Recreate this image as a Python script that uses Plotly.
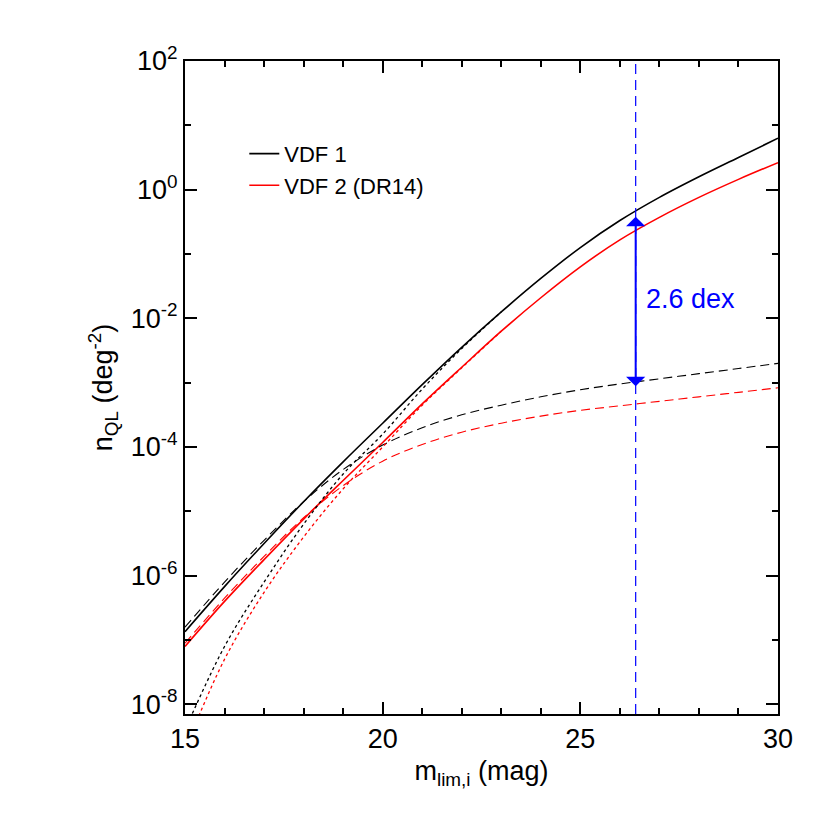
import plotly.graph_objects as go

x_m = [15, 16, 17, 18, 19, 20, 21, 22, 23, 24, 25, 26, 27, 28, 29, 30]
b_sol = [-6.87, -6.17, -5.5, -4.85, -4.23, -3.63, -3.03, -2.45, -1.9, -1.38, -0.9, -0.48, -0.12, 0.2, 0.5, 0.8]
r_sol = [-7.1, -6.4, -5.75, -5.12, -4.52, -3.93, -3.33, -2.76, -2.2, -1.68, -1.2, -0.78, -0.43, -0.12, 0.16, 0.42]
b_dash = [-6.8, -6.1, -5.45, -4.85, -4.35, -3.97, -3.7, -3.5, -3.35, -3.22, -3.11, -3.02, -2.94, -2.86, -2.78, -2.7]
r_dash = [-7.05, -6.35, -5.7, -5.1, -4.6, -4.22, -3.96, -3.77, -3.63, -3.52, -3.43, -3.36, -3.29, -3.22, -3.15, -3.08]
x_dot = [15, 16, 17, 18, 19, 20, 21, 22, 23]
b_dot = [-8.4, -7.1, -6.1, -5.2, -4.42, -3.8, -3.1, -2.47, -1.9]
r_dot = [-8.7, -7.3, -6.26, -5.4, -4.65, -4.0, -3.35, -2.77, -2.2]
m_lim = 26.4
arrow_top, arrow_bot = -0.42, -3.08

def p(v):
    return [10**a for a in v]

F = 'Liberation Sans'
fig = go.Figure()
def add(x, y, c, dash, name=None, w=1.6):
    fig.add_trace(go.Scatter(x=x, y=p(y), mode='lines', line=dict(color=c, width=w, dash=dash, shape='spline'),
                             name=name, showlegend=name is not None))
add(x_m, b_sol, 'black', 'solid', 'VDF 1')
add(x_m, r_sol, 'red', 'solid', 'VDF 2 (DR14)')
add(x_m, b_dash, 'black', '9px,5px', w=1.1)
add(x_m, r_dash, 'red', '9px,5px', w=1.1)
add(x_dot, b_dot, 'black', 'dot', w=1.3)
add(x_dot, r_dot, 'red', 'dot', w=1.3)

fig.add_shape(type='line', x0=m_lim, x1=m_lim, y0=0, y1=1, yref='paper', line=dict(color='blue', width=1.2, dash='10px,6px'))
fig.add_annotation(x=m_lim, y=arrow_top, ax=m_lim, ay=arrow_bot, axref='x', ayref='y', xref='x', yref='y', text='',
                   showarrow=True, arrowhead=1, arrowside='end+start', arrowsize=1.6, arrowwidth=2, arrowcolor='blue')
fig.add_annotation(x=26.6, y=-1.7, text='2.6 dex', showarrow=False, xanchor='left',
                   font=dict(color='blue', size=27, family=F))

ax = dict(showline=True, linecolor='black', linewidth=2, mirror='allticks', ticks='inside', ticklen=12,
          tickwidth=1.5, tickcolor='black', showgrid=False, zeroline=False,
          tickfont=dict(size=27, color='black', family=F))
fig.update_xaxes(range=[15, 30], tickvals=[15, 20, 25, 30], minor=dict(ticks='inside', ticklen=6, dtick=1, tickcolor='black'),
                 title=dict(text='m<sub>lim,i</sub> (mag)', font=dict(size=27, family=F), standoff=8), **ax)
fig.update_yaxes(type='log', range=[-8.15, 2], tickvals=[1e-8, 1e-6, 1e-4, 1e-2, 1, 100],
                 ticktext=['10<sup>-8</sup>', '10<sup>-6</sup>', '10<sup>-4</sup>', '10<sup>-2</sup>', '10<sup>0</sup>', '10<sup>2</sup>'],
                 minor=dict(ticks='inside', ticklen=6, tickvals=[10**k for k in range(-8, 2, 1)], tickcolor='black'),
                 title=dict(text='n<sub>QL</sub> (deg<sup>-2</sup>)', font=dict(size=27, family=F), standoff=10), **ax)
fig.update_layout(width=830, height=830, plot_bgcolor='white', paper_bgcolor='white',
                  font=dict(family=F, color='black', size=24),
                  margin=dict(l=177, r=60, t=53, b=124, autoexpand=False),
                  legend=dict(x=0.1, y=0.89, bgcolor='rgba(0,0,0,0)', font=dict(size=22), tracegroupgap=14))
fig.write_html('out.html')
